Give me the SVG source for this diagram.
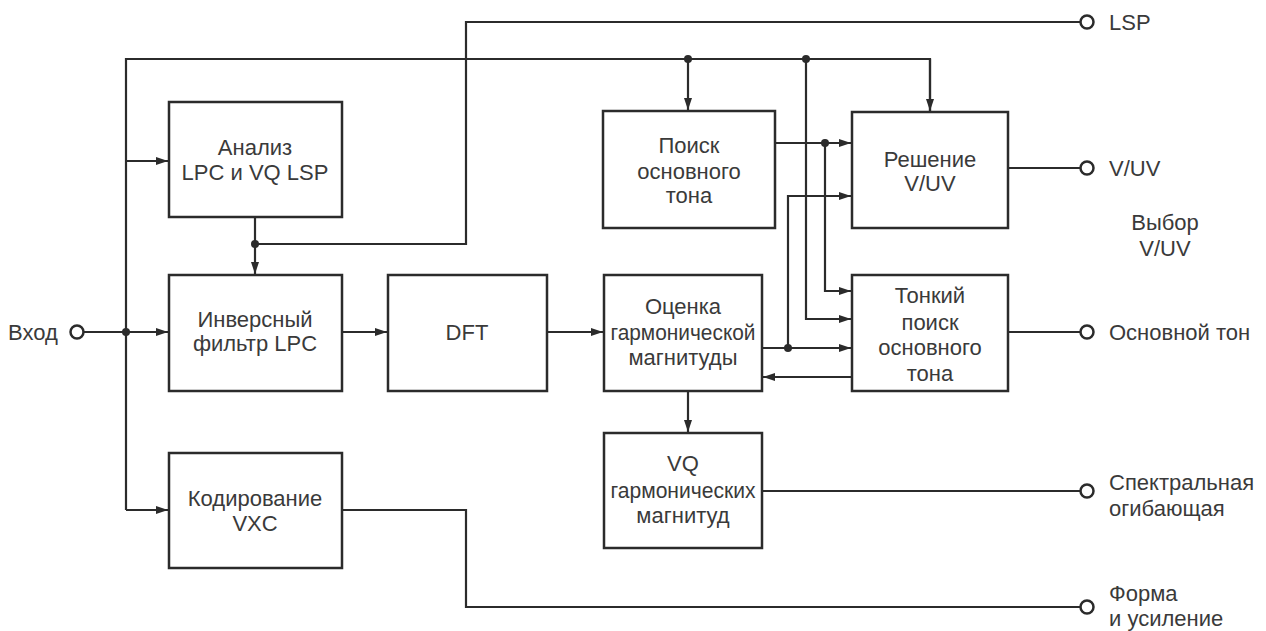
<svg xmlns="http://www.w3.org/2000/svg" width="1266" height="631" viewBox="0 0 1266 631">
<style>
.box{fill:#fff;stroke:#2b2b2b;stroke-width:2.5}
.w{fill:none;stroke:#2b2b2b;stroke-width:2.2}
.a{fill:none;stroke:#2b2b2b;stroke-width:2.2;marker-end:url(#ah)}
.dot{fill:#2b2b2b}
.port{fill:#fff;stroke:#2b2b2b;stroke-width:2.5}
text{font-family:"Liberation Sans",Arial,sans-serif;font-size:22px;fill:#3a3a3a}
.c{text-anchor:middle}
</style>
<defs>
<marker id="ah" viewBox="0 0 12 8" refX="12" refY="4" markerWidth="12" markerHeight="8" markerUnits="userSpaceOnUse" orient="auto">
<path d="M0,0 L12,4 L0,8 z" fill="#2b2b2b"/>
</marker>
</defs>
<rect width="1266" height="631" fill="#fff"/>

<g id="connectors">
<polyline class="w" points="126,510 126,59 930,59 930,112"/>
<line class="a" x1="930" y1="59" x2="930" y2="111"/>
<line class="a" x1="126" y1="161" x2="168" y2="161"/>
<line class="a" x1="84" y1="332" x2="168" y2="332"/>
<line class="a" x1="126" y1="510" x2="168" y2="510"/>
<line class="a" x1="255" y1="217" x2="255" y2="274"/>
<polyline class="w" points="255,244 466,244 466,22 1080,22"/>
<line class="a" x1="342" y1="332" x2="387" y2="332"/>
<line class="a" x1="547" y1="332" x2="603" y2="332"/>
<line class="a" x1="688" y1="391" x2="688" y2="432"/>
<line class="a" x1="688" y1="59" x2="688" y2="110"/>
<line class="a" x1="775" y1="143" x2="851" y2="143"/>
<polyline class="a" points="825,143 825,291 851,291"/>
<polyline class="a" points="806,59 806,319 851,319"/>
<line class="a" x1="762" y1="348" x2="851" y2="348"/>
<polyline class="a" points="788,348 788,196 851,196"/>
<line class="a" x1="852" y1="377" x2="763" y2="377"/>
<line class="w" x1="1008" y1="168" x2="1080" y2="168"/>
<line class="w" x1="1008" y1="332" x2="1080" y2="332"/>
<line class="w" x1="762" y1="491" x2="1080" y2="491"/>
<polyline class="w" points="342,510 466,510 466,607 1080,607"/>
<circle class="dot" cx="126" cy="332" r="4"/>
<circle class="dot" cx="255" cy="244" r="4"/>
<circle class="dot" cx="688" cy="59" r="4"/>
<circle class="dot" cx="806" cy="59" r="4"/>
<circle class="dot" cx="825" cy="143" r="4"/>
<circle class="dot" cx="788" cy="348" r="4"/>
</g>

<g id="in">
<circle class="port" cx="77" cy="332" r="6.5"/>
<text x="8" y="340">Вход</text>
</g>
<g id="lsp-analysis">
<rect class="box" x="169" y="102" width="173" height="115"/>
<text class="c" x="255" y="155">Анализ</text>
<text class="c" x="255" y="180">LPC и VQ LSP</text>
</g>
<g id="inv-filter">
<rect class="box" x="169" y="275" width="173" height="116"/>
<text class="c" x="255" y="327">Инверсный</text>
<text class="c" x="255" y="351">фильтр LPC</text>
</g>
<g id="vxc">
<rect class="box" x="169" y="453" width="173" height="115"/>
<text class="c" x="255" y="506">Кодирование</text>
<text class="c" x="255" y="531">VXC</text>
</g>
<g id="dft">
<rect class="box" x="388" y="275" width="159" height="116"/>
<text class="c" x="467" y="340">DFT</text>
</g>
<g id="harm-est">
<rect class="box" x="604" y="275" width="158" height="116"/>
<text class="c" x="683" y="314">Оценка</text>
<text class="c" x="683" y="340" textLength="145" lengthAdjust="spacingAndGlyphs">гармонической</text>
<text class="c" x="683" y="365">магнитуды</text>
</g>
<g id="harm-vq">
<rect class="box" x="604" y="433" width="158" height="115"/>
<text class="c" x="683" y="471">VQ</text>
<text class="c" x="683" y="498" textLength="145" lengthAdjust="spacingAndGlyphs">гармонических</text>
<text class="c" x="683" y="523">магнитуд</text>
</g>
<g id="pitch-search">
<rect class="box" x="603" y="111" width="172" height="117"/>
<text class="c" x="689" y="153">Поиск</text>
<text class="c" x="689" y="179">основного</text>
<text class="c" x="689" y="203">тона</text>
</g>
<g id="vuv">
<rect class="box" x="852" y="112" width="156" height="116"/>
<text class="c" x="930" y="167">Решение</text>
<text class="c" x="930" y="191">V/UV</text>
</g>
<g id="fine-pitch">
<rect class="box" x="852" y="275" width="156" height="116"/>
<text class="c" x="930" y="303">Тонкий</text>
<text class="c" x="930" y="330">поиск</text>
<text class="c" x="930" y="355">основного</text>
<text class="c" x="930" y="381">тона</text>
</g>
<g id="out-lsp">
<circle class="port" cx="1087" cy="22" r="6.5"/>
<text x="1109" y="30">LSP</text>
</g>
<g id="out-vuv">
<circle class="port" cx="1087" cy="168" r="6.5"/>
<text x="1109" y="176">V/UV</text>
<text class="c" x="1165" y="230">Выбор</text>
<text class="c" x="1165" y="256">V/UV</text>
</g>
<g id="out-pitch">
<circle class="port" cx="1087" cy="332" r="6.5"/>
<text x="1109" y="340">Основной тон</text>
</g>
<g id="out-env">
<circle class="port" cx="1087" cy="491" r="6.5"/>
<text x="1109" y="490">Спектральная</text>
<text x="1109" y="516">огибающая</text>
</g>
<g id="out-shape">
<circle class="port" cx="1087" cy="607" r="6.5"/>
<text x="1109" y="601">Форма</text>
<text x="1109" y="626">и усиление</text>
</g>
</svg>
